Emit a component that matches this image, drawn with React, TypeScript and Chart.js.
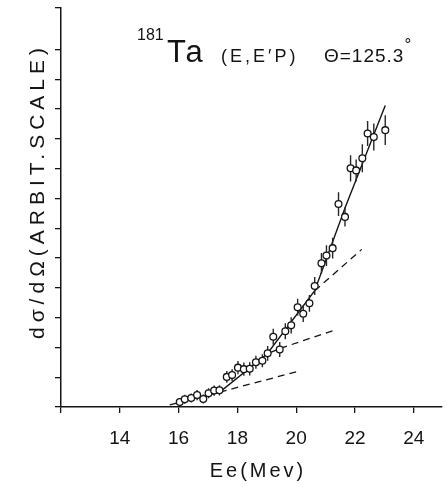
import React, { useEffect, useRef } from "react";
import { Chart, registerables } from "chart.js";

Chart.register(...registerables);

// Measured data points: electron energy (MeV) and cross section (arbitrary units)
const energies = [
  16.04, 16.21, 16.43, 16.63, 16.84, 17.02, 17.21, 17.39, 17.64, 17.82, 18.02, 18.22,
  18.42, 18.63, 18.85, 19.03, 19.22, 19.44, 19.63, 19.83, 20.05, 20.24, 20.45, 20.63,
  20.86, 21.03, 21.24, 21.44, 21.66, 21.85, 22.04, 22.25, 22.43, 22.64, 23.03,
];
const crossSections = [
  0.17, 0.26, 0.3, 0.4, 0.27, 0.46, 0.55, 0.56, 1.01, 1.07, 1.32, 1.27,
  1.28, 1.5, 1.55, 1.8, 2.36, 1.93, 2.54, 2.74, 3.35, 3.13, 3.48, 4.06,
  4.82, 5.08, 5.33, 6.81, 6.38, 8.01, 7.94, 8.35, 9.18, 9.06, 9.29,
];
const errors = [
  0.13, 0.15, 0.15, 0.17, 0.15, 0.17, 0.17, 0.17, 0.2, 0.2, 0.22, 0.22,
  0.22, 0.22, 0.22, 0.25, 0.27, 0.25, 0.27, 0.27, 0.28, 0.28, 0.28, 0.3,
  0.35, 0.35, 0.35, 0.4, 0.32, 0.44, 0.37, 0.47, 0.42, 0.45, 0.5,
];

// Solid piecewise-linear fit
const fitX = [15.7, 17.4, 19.01, 20.63, 21.67, 23.03];
const fitY = [0.07, 0.5, 1.78, 3.9, 6.7, 10.12];
// Short solid continuation of the second component
const shoulderX = [19.01, 19.46];
const shoulderY = [1.78, 1.97];
// Dashed extrapolations
const dash1X = [17.4, 20.0];
const dash1Y = [0.5, 1.18];
const dash2X = [19.46, 21.25];
const dash2Y = [1.97, 2.56];
const dash3X = [20.63, 22.23];
const dash3Y = [3.9, 5.29];

// Axes
const xTickValues = [12, 14, 16, 18, 20, 22, 24];
const xMin = 12;
const xMax = 24.95;
const yMin = 0;
const yMax = 13.39;

const X_TITLE = "Ee(Mev)";
const Y_TITLE = "dσ/dΩ(ARBIT.SCALE)";

const INK = "#141414";

const pts = (xs: number[], ys: number[]) => xs.map((x, i) => ({ x, y: ys[i] }));

const errorBarData = () => {
  const out: { x: number; y: number | null }[] = [];
  energies.forEach((x, i) => {
    out.push({ x, y: crossSections[i] - errors[i] });
    out.push({ x, y: crossSections[i] + errors[i] });
    out.push({ x, y: null });
  });
  return out;
};

const textPlugin = {
  id: "paperText",
  afterDraw(chart: any) {
    const ctx = chart.ctx as CanvasRenderingContext2D;
    ctx.save();
    ctx.fillStyle = INK;
    ctx.textBaseline = "alphabetic";

    // x-axis title
    ctx.font = '20px "Liberation Sans"';
    (ctx as any).letterSpacing = "3px";
    ctx.textAlign = "center";
    ctx.fillText(X_TITLE, 258, 477);

    // y-axis title (rotated)
    ctx.save();
    ctx.translate(44, 191);
    ctx.rotate(-Math.PI / 2);
    ctx.font = '21px "Liberation Sans"';
    (ctx as any).letterSpacing = "5px";
    ctx.textAlign = "center";
    ctx.fillText(Y_TITLE, 0, 0);
    ctx.restore();

    // annotation
    ctx.textAlign = "left";
    (ctx as any).letterSpacing = "0px";
    ctx.font = '16px "Liberation Sans"';
    ctx.fillText("181", 137, 40);
    ctx.font = '31px "Liberation Sans"';
    (ctx as any).letterSpacing = "3px";
    ctx.fillText("Ta", 167, 62);
    ctx.font = '18px "Liberation Sans"';
    (ctx as any).letterSpacing = "3px";
    ctx.fillText("(E,E′P)", 221, 62);
    (ctx as any).letterSpacing = "1px";
    ctx.font = '19px "Liberation Sans"';
    ctx.fillText("Θ=125.3", 324, 62);
    const w = ctx.measureText("Θ=125.3").width;
    ctx.font = '17px "Liberation Sans"';
    ctx.fillText("°", 324 + w, 50);
    ctx.restore();
  },
};

export default function App() {
  const canvasRef = useRef<HTMLCanvasElement | null>(null);

  useEffect(() => {
    document.body.style.margin = "0";
    document.body.style.background = "#ffffff";
    const canvas = canvasRef.current;
    if (!canvas) return;

    const chart = new Chart(canvas, {
      type: "scatter",
      data: {
        datasets: [
          {
            label: "data",
            data: pts(energies, crossSections),
            showLine: false,
            pointRadius: 3.4,
            pointBackgroundColor: "#ffffff",
            pointBorderColor: INK,
            pointBorderWidth: 1.3,
            order: 0,
          },
          {
            label: "errors",
            data: errorBarData(),
            showLine: true,
            spanGaps: false,
            pointRadius: 0,
            borderColor: "#262626",
            borderWidth: 1.4,
            order: 1,
          },
          {
            label: "fit",
            data: pts(fitX, fitY),
            showLine: true,
            pointRadius: 0,
            borderColor: INK,
            borderWidth: 1.4,
            order: 2,
          },
          {
            label: "shoulder",
            data: pts(shoulderX, shoulderY),
            showLine: true,
            pointRadius: 0,
            borderColor: INK,
            borderWidth: 1.4,
            order: 2,
          },
          {
            label: "dash1",
            data: pts(dash1X, dash1Y),
            showLine: true,
            pointRadius: 0,
            borderColor: INK,
            borderWidth: 1.3,
            borderDash: [7, 5],
            order: 3,
          },
          {
            label: "dash2",
            data: pts(dash2X, dash2Y),
            showLine: true,
            pointRadius: 0,
            borderColor: INK,
            borderWidth: 1.3,
            borderDash: [7, 5],
            order: 3,
          },
          {
            label: "dash3",
            data: pts(dash3X, dash3Y),
            showLine: true,
            pointRadius: 0,
            borderColor: INK,
            borderWidth: 1.3,
            borderDash: [7, 5],
            order: 3,
          },
        ],
      },
      options: {
        animation: false,
        responsive: true,
        maintainAspectRatio: false,
        layout: { padding: { top: 8, right: 0, left: 0, bottom: 0 } },
        plugins: {
          legend: { display: false },
          tooltip: { enabled: false },
          title: { display: false },
        },
        scales: {
          x: {
            type: "linear",
            min: xMin,
            max: xMax,
            afterBuildTicks: (scale: any) => {
              scale.ticks = xTickValues.map((v) => ({ value: v }));
            },
            afterFit: (scale: any) => {
              scale.height = 80;
            },
            grid: {
              drawOnChartArea: false,
              drawTicks: true,
              tickLength: 6,
              color: INK,
              lineWidth: 1.3,
            },
            border: { display: true, color: INK, width: 1.5 },
            ticks: {
              color: INK,
              padding: 14,
              maxRotation: 0,
              font: { family: '"Liberation Sans"', size: 19 },
              callback: (v: any) => (Number(v) === xMin ? "" : String(v)),
            },
          },
          y: {
            type: "linear",
            min: yMin,
            max: yMax,
            ticks: {
              stepSize: 1,
              callback: () => "",
              padding: 0,
            },
            afterFit: (scale: any) => {
              scale.width = 61;
            },
            grid: {
              drawOnChartArea: false,
              drawTicks: true,
              tickLength: 6,
              color: INK,
              lineWidth: 1.3,
            },
            border: { display: true, color: INK, width: 1.5 },
          },
        },
      },
      plugins: [textPlugin],
    });

    return () => chart.destroy();
  }, []);

  return (
    <div style={{ position: "fixed", left: 0, top: 0, width: 447, height: 487, background: "#fff" }}>
      <canvas ref={canvasRef} />
    </div>
  );
}
